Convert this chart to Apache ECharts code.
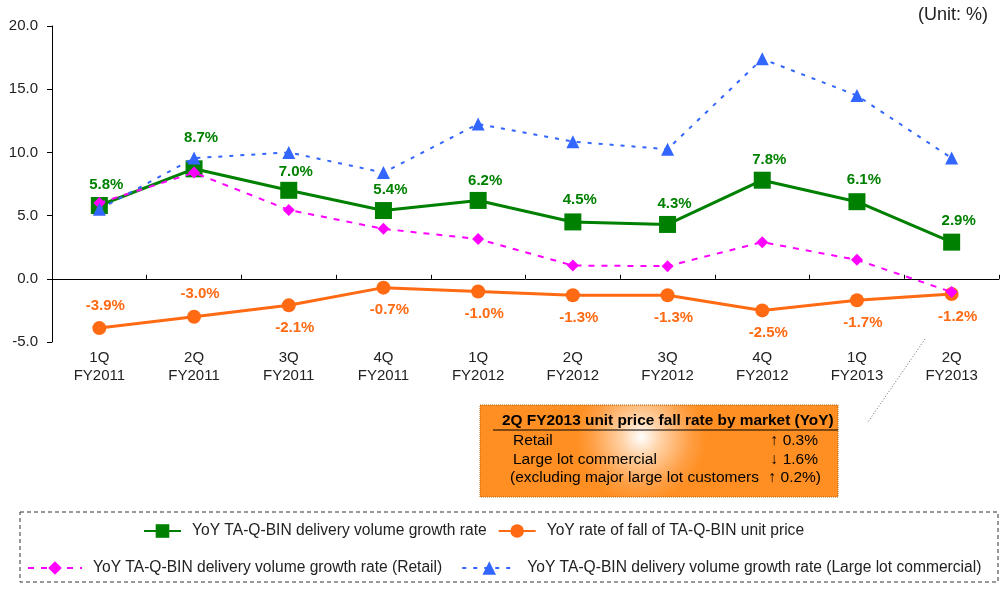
<!DOCTYPE html>
<html>
<head>
<meta charset="utf-8">
<script src="https://cdn.jsdelivr.net/npm/echarts@6/dist/echarts.min.js"></script>
<style>
  html, body { margin: 0; padding: 0; background: #fff; }
  #chart { width: 1000px; height: 593px; }
</style>
</head>
<body>
<div id="chart"></div>
<script>
  // categories
  const quarters = ['1Q\nFY2011', '2Q\nFY2011', '3Q\nFY2011', '4Q\nFY2011', '1Q\nFY2012',
                    '2Q\nFY2012', '3Q\nFY2012', '4Q\nFY2012', '1Q\nFY2013', '2Q\nFY2013'];
  // series values (%)
  const volumeGrowth = [5.8, 8.7, 7.0, 5.4, 6.2, 4.5, 4.3, 7.8, 6.1, 2.9];
  const priceFall = [-3.9, -3.0, -2.1, -0.7, -1.0, -1.3, -1.3, -2.5, -1.7, -1.2];
  const retailGrowth = [6.0, 8.4, 5.45, 3.95, 3.15, 1.05, 1.0, 2.9, 1.5, -1.05];
  const largeLotGrowth = [5.5, 9.55, 10.0, 8.4, 12.25, 10.85, 10.25, 17.4, 14.5, 9.55];
  // orange labels: which ones sit above the point
  const priceLabelAbove = [true, true, false, false, false, false, false, false, false, false];
  // green labels were hand-placed in the original, a couple sit higher/lower
  const volumeLabelGap = [5, 15, 2, 5, 4, 6, 5, 4, 6, 5];

  const font = 'Arial, "Liberation Sans", sans-serif';
  const green = '#008000', orange = '#ff6a13', magenta = '#ff00ff', blue = '#3366ff';

  const myChart = echarts.init(document.getElementById('chart'));

  const option = {
    animation: false,
    grid: { left: 52, right: 1, top: 26, bottom: 251 },
    xAxis: [
      {
        type: 'category',
        data: quarters,
        axisLine: { onZero: true, lineStyle: { color: '#000', width: 1 } },
        axisTick: { show: true, inside: true, length: 4, lineStyle: { color: '#000' } },
        axisLabel: { show: false }
      },
      {
        type: 'category',
        data: quarters,
        position: 'bottom',
        axisLine: { show: false },
        axisTick: { show: false },
        axisLabel: { color: '#222', fontSize: 15, fontFamily: font, lineHeight: 18, margin: 7 }
      }
    ],
    yAxis: {
      type: 'value',
      min: -5, max: 20, interval: 5,
      axisLine: { show: true, lineStyle: { color: '#000' } },
      axisTick: { show: true, length: 5, lineStyle: { color: '#000' } },
      splitLine: { show: false },
      axisLabel: { color: '#222', fontSize: 15, fontFamily: font, margin: 14,
        formatter: v => v.toFixed(1) }
    },
    legend: [
      {
        left: 138, top: 518,
        itemWidth: 37, itemHeight: 17, itemGap: 11,
        textStyle: { fontSize: 15.6, fontFamily: font, color: '#222', padding: [0, 0, 0, 6] },
        data: ['YoY TA-Q-BIN delivery volume growth rate', 'YoY rate of fall of TA-Q-BIN unit price']
      },
      {
        left: 22, top: 555,
        itemWidth: 54, itemHeight: 17, itemGap: 19,
        textStyle: { fontSize: 15.6, fontFamily: font, color: '#222', padding: [0, 0, 0, 6] },
        data: ['YoY TA-Q-BIN delivery volume growth rate (Retail)',
               'YoY TA-Q-BIN delivery volume growth rate (Large lot commercial)']
      }
    ],
    series: [
      {
        name: 'YoY TA-Q-BIN delivery volume growth rate',
        type: 'line',
        data: volumeGrowth.map((v, i) => ({ value: v, label: { distance: volumeLabelGap[i] } })),
        symbol: 'rect', symbolSize: 17,
        lineStyle: { color: green, width: 3 },
        itemStyle: { color: green },
        label: { show: true, position: 'top', offset: [7, 0], color: green, fontWeight: 'bold',
          fontSize: 15, fontFamily: font, formatter: p => p.value.toFixed(1) + '%' },
        z: 3
      },
      {
        name: 'YoY rate of fall of TA-Q-BIN unit price',
        type: 'line',
        data: priceFall.map((v, i) => ({
          value: v,
          label: { position: priceLabelAbove[i] ? 'top' : 'bottom' }
        })),
        symbol: 'circle', symbolSize: 14,
        lineStyle: { color: orange, width: 3 },
        itemStyle: { color: orange },
        label: { show: true, distance: 8, offset: [6, 0], color: orange, fontWeight: 'bold',
          fontSize: 15, fontFamily: font, formatter: p => p.value.toFixed(1) + '%' },
        z: 3
      },
      {
        name: 'YoY TA-Q-BIN delivery volume growth rate (Retail)',
        type: 'line',
        data: retailGrowth,
        symbol: 'diamond', symbolSize: 12,
        lineStyle: { color: magenta, width: 2, type: [6, 7] },
        itemStyle: { color: magenta },
        z: 4
      },
      {
        name: 'YoY TA-Q-BIN delivery volume growth rate (Large lot commercial)',
        type: 'line',
        data: largeLotGrowth,
        symbol: 'triangle', symbolSize: 13,
        lineStyle: { color: blue, width: 2, type: [4, 7] },
        itemStyle: { color: blue },
        z: 4
      }
    ],
    graphic: [
      { type: 'text', right: 12, top: 6,
        style: { text: '(Unit: %)', font: '18px ' + font, fill: '#222' } },
      // legend frame
      { type: 'rect', shape: { x: 20, y: 512, width: 978, height: 70 },
        style: { fill: 'none', stroke: '#333', lineWidth: 1, lineDash: [4, 3] }, z: -1 },
      // pointer from the note box to 2Q FY2013
      { type: 'line', shape: { x1: 925, y1: 339, x2: 868, y2: 422 },
        style: { stroke: '#666', lineWidth: 1, lineDash: [1, 2] } },
      // note box
      { type: 'rect', shape: { x: 480, y: 405, width: 358, height: 92 },
        style: {
          fill: new echarts.graphic.RadialGradient(0.45, 0.35, 0.7, [
            { offset: 0, color: '#ffffff' },
            { offset: 0.3, color: '#ffd2a6' },
            { offset: 0.75, color: '#ff9f45' },
            { offset: 1, color: '#ff8f22' }
          ]),
          stroke: '#b85c00', lineWidth: 1, lineDash: [1, 1]
        } },
      { type: 'text', x: 502, y: 413,
        style: { text: '2Q FY2013 unit price fall rate by market (YoY)',
          font: 'bold 15.4px ' + font, fill: '#000' } },
      { type: 'line', shape: { x1: 493, y1: 430, x2: 838, y2: 430 },
        style: { stroke: '#000', lineWidth: 1 } },
      { type: 'text', x: 513, y: 433, style: { text: 'Retail', font: '15.5px ' + font, fill: '#000' } },
      { type: 'text', x: 513, y: 452, style: { text: 'Large lot commercial', font: '15.5px ' + font, fill: '#000' } },
      { type: 'text', x: 510, y: 470, style: { text: '(excluding major large lot customers', font: '15.5px ' + font, fill: '#000' } },
      { type: 'text', x: 818, y: 433, style: { text: '\u2191 0.3%', font: '15.5px ' + font, fill: '#000', align: 'right' } },
      { type: 'text', x: 818, y: 452, style: { text: '\u2193 1.6%', font: '15.5px ' + font, fill: '#000', align: 'right' } },
      { type: 'text', x: 821, y: 470, style: { text: '\u2191 0.2%)', font: '15.5px ' + font, fill: '#000', align: 'right' } }
    ]
  };

  option && myChart.setOption(option);
</script>
</body>
</html>
